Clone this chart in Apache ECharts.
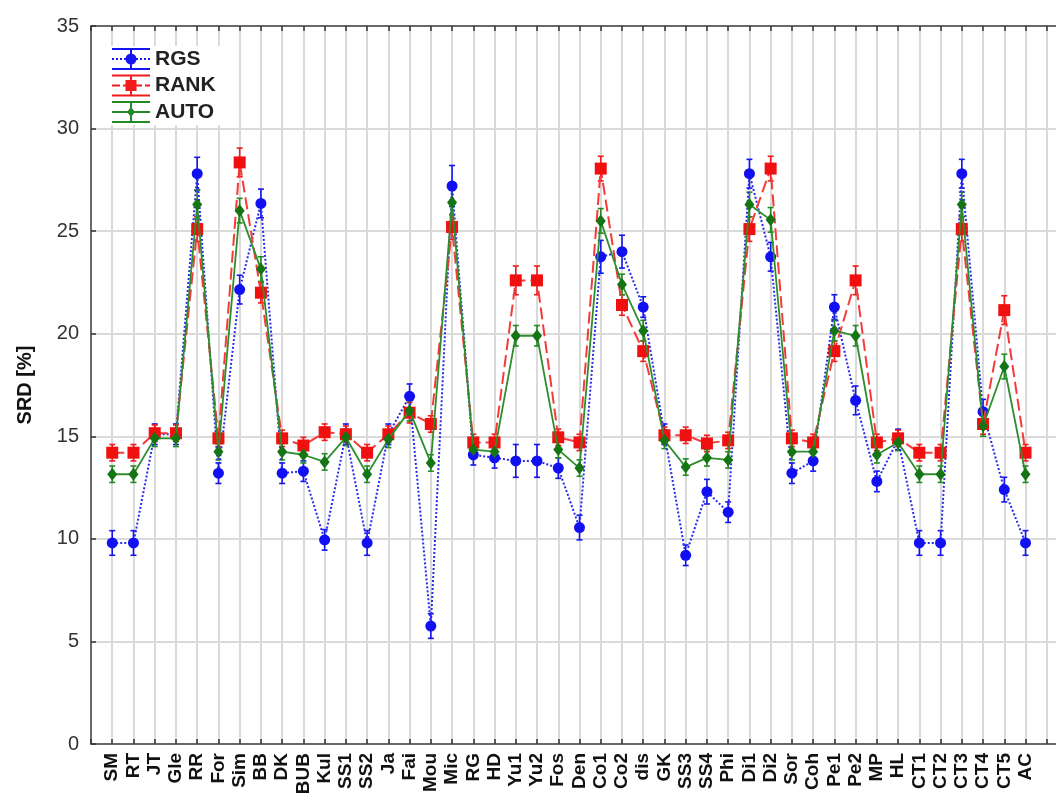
<!DOCTYPE html>
<html>
<head>
<meta charset="utf-8">
<script src="https://cdn.jsdelivr.net/npm/echarts@6/dist/echarts.min.js"></script>
<style>html,body{margin:0;padding:0;background:#fff;overflow:hidden;}#c{width:1068px;height:796px;}</style>
</head>
<body>
<div id="c"></div>
<script>
const categories = ['SM','RT','JT','Gle','RR','For','Sim','BB','DK','BUB','Kul','SS1','SS2','Ja','Fai','Mou','Mic','RG','HD','Yu1','Yu2','Fos','Den','Co1','Co2','dis','GK','SS3','SS4','Phi','Di1','Di2','Sor','Coh','Pe1','Pe2','MP','HL','CT1','CT2','CT3','CT4','CT5','AC'];
const rgs  = [9.8,9.8,15.1,15.1,27.8,13.2,22.15,26.35,13.2,13.3,9.95,15.1,9.8,15.1,16.95,5.75,27.2,14.1,13.95,13.8,13.8,13.45,10.55,23.75,24.0,21.3,15.1,9.2,12.3,11.3,27.8,23.75,13.2,13.8,21.3,16.75,12.8,14.85,9.8,9.8,27.8,16.2,12.4,9.8];
const rank = [14.2,14.2,15.15,15.15,25.1,14.9,28.35,22.0,14.9,14.55,15.2,15.1,14.2,15.1,16.15,15.6,25.2,14.7,14.7,22.6,22.6,14.95,14.7,28.05,21.4,19.15,15.05,15.05,14.65,14.8,25.1,28.05,14.9,14.7,19.15,22.6,14.7,14.9,14.2,14.2,25.1,15.6,21.15,14.2];
const auto = [13.15,13.15,14.9,14.9,26.3,14.25,26.0,23.15,14.25,14.1,13.75,14.95,13.15,14.85,16.25,13.7,26.4,14.35,14.25,19.9,19.9,14.35,13.45,25.5,22.4,20.15,14.8,13.5,13.95,13.85,26.3,25.55,14.25,14.25,20.15,19.9,14.1,14.7,13.15,13.15,26.3,15.5,18.4,13.15];
const rgsErr  = [0.6,0.6,0.5,0.5,0.8,0.5,0.7,0.7,0.5,0.5,0.5,0.5,0.6,0.5,0.6,0.6,1.0,0.5,0.5,0.8,0.8,0.5,0.6,0.8,0.8,0.5,0.5,0.5,0.6,0.5,0.7,0.7,0.5,0.5,0.6,0.7,0.5,0.5,0.6,0.6,0.7,0.6,0.6,0.6];
const rankErr = [0.4,0.4,0.4,0.4,0.6,0.4,0.7,0.5,0.4,0.4,0.4,0.4,0.4,0.4,0.5,0.4,0.6,0.4,0.4,0.7,0.7,0.4,0.4,0.6,0.5,0.5,0.4,0.4,0.4,0.4,0.6,0.6,0.4,0.4,0.5,0.7,0.4,0.4,0.4,0.4,0.6,0.5,0.7,0.4];
const autoErr = [0.4,0.4,0.4,0.4,0.7,0.4,0.6,0.6,0.4,0.4,0.4,0.4,0.4,0.4,0.5,0.4,0.6,0.4,0.4,0.5,0.5,0.4,0.4,0.6,0.5,0.5,0.4,0.4,0.4,0.4,0.6,0.6,0.4,0.4,0.5,0.5,0.4,0.4,0.4,0.4,0.6,0.5,0.6,0.4];
const yTicks = {min: 0, max: 35, interval: 5};

// padded axis: one empty slot before, two after (plot extends past the picture)
const axisData = [''].concat(categories, ['', '']);

function pairs(vals) { return vals.map((v, i) => [i + 1, v]); }
function errData(vals, errs) { return vals.map((v, i) => [i + 1, v - errs[i], v + errs[i]]); }

function errSeries(name, vals, errs, color) {
  return {
    name: name, type: 'custom', silent: true, z: 2,
    data: errData(vals, errs),
    encode: {x: 0, y: [1, 2]},
    renderItem: function (params, api) {
      const x = api.value(0);
      const lo = api.coord([x, api.value(1)]);
      const hi = api.coord([x, api.value(2)]);
      const w = 3;
      const st = {stroke: color, lineWidth: 1.6};
      return {type: 'group', children: [
        {type: 'line', shape: {x1: lo[0], y1: lo[1], x2: hi[0], y2: hi[1]}, style: st},
        {type: 'line', shape: {x1: hi[0] - w, y1: hi[1], x2: hi[0] + w, y2: hi[1]}, style: st},
        {type: 'line', shape: {x1: lo[0] - w, y1: lo[1], x2: lo[0] + w, y2: lo[1]}, style: st}
      ]};
    }
  };
}

function legendIcon(kind) {
  let p = 'M0,0 h38 v2 h-38 Z M0,20 h38 v2 h-38 Z M18,0 h2 v22 h-2 Z ';
  if (kind === 'dot') { for (let x = 0; x < 38; x += 4) p += 'M' + x + ',10 h2 v2 h-2 Z '; }
  else if (kind === 'dash') { for (let x = 0; x < 38; x += 11) p += 'M' + x + ',10 h' + Math.min(8, 38 - x) + ' v2 h-' + Math.min(8, 38 - x) + ' Z '; }
  else { p += 'M0,10 h38 v2 h-38 Z '; }
  if (kind === 'dot') p += 'M13.5,11 A5.5,5.5 0 1 1 24.5,11 A5.5,5.5 0 1 1 13.5,11 Z';
  else if (kind === 'dash') p += 'M13.5,5.5 h11 v11 h-11 Z';
  else p += 'M19,6 L23,11 L19,16 L15,11 Z';
  return 'path://' + p;
}

const chart = echarts.init(document.getElementById('c'), null, {renderer: 'canvas'});
const axisFont = 'Liberation Sans, Arial, sans-serif';
chart.setOption({
  animation: false,
  backgroundColor: '#fff',
  grid: {left: 91, top: 26, right: 0, bottom: 52, containLabel: false, outerBoundsMode: 'none'},
  legend: {
    orient: 'vertical', left: 108, top: 46,
    itemWidth: 38, itemHeight: 22, itemGap: 4.5,
    backgroundColor: '#fff', padding: [2, 6, 2, 4],
    textStyle: {fontFamily: axisFont, fontSize: 21, fontWeight: 'bold', color: '#222', padding: [0, 0, 0, 0]},
    data: [
      {name: 'RGS', icon: legendIcon('dot'), itemStyle: {color: '#1515f0'}},
      {name: 'RANK', icon: legendIcon('dash'), itemStyle: {color: '#f21a1a'}},
      {name: 'AUTO', icon: legendIcon('solid'), itemStyle: {color: '#248a24'}}
    ]
  },
  xAxis: [{
    type: 'category', data: axisData, boundaryGap: false,
    axisLine: {show: true, lineStyle: {color: '#444', width: 1.5}},
    axisTick: {show: true, inside: true, length: 5, interval: 0, lineStyle: {color: '#333', width: 1.5}},
    axisLabel: {interval: 0, rotate: 90, margin: 9, fontFamily: axisFont, fontSize: 19, fontWeight: 'bold', color: '#111'},
    splitLine: {show: true, interval: 0, lineStyle: {color: '#dadada', width: 2}}
  }, {
    type: 'category', data: axisData, boundaryGap: false, position: 'top',
    axisLine: {show: true, lineStyle: {color: '#444', width: 1.5}},
    axisTick: {show: true, inside: true, length: 5, interval: 0, lineStyle: {color: '#333', width: 1.5}},
    axisLabel: {show: false}, splitLine: {show: false}
  }],
  yAxis: {
    type: 'value', min: yTicks.min, max: yTicks.max, interval: yTicks.interval,
    name: 'SRD [%]', nameLocation: 'middle', nameGap: 56,
    nameTextStyle: {fontFamily: axisFont, fontSize: 20, fontWeight: 'bold', color: '#111'},
    axisLine: {show: true, lineStyle: {color: '#444', width: 1.5}},
    axisTick: {show: true, inside: true, length: 5, lineStyle: {color: '#333', width: 1.5}},
    axisLabel: {margin: 12, fontFamily: axisFont, fontSize: 20, color: '#333'},
    splitLine: {show: true, lineStyle: {color: '#dadada', width: 2}}
  },
  series: [
    errSeries('RGS err', rgs, rgsErr, '#1515f0'),
    errSeries('RANK err', rank, rankErr, '#f21a1a'),
    errSeries('AUTO err', auto, autoErr, '#248a24'),
    {name: 'RGS', type: 'line', data: pairs(rgs), z: 3,
     symbol: 'circle', symbolSize: 11, itemStyle: {color: '#1010f0'},
     lineStyle: {color: '#2a2aee', width: 2, type: [2, 2]}},
    {name: 'RANK', type: 'line', data: pairs(rank), z: 4,
     symbol: 'rect', symbolSize: 12, itemStyle: {color: '#f01010'},
     lineStyle: {color: '#f53a3a', width: 2, type: [12, 5]}},
    {name: 'AUTO', type: 'line', data: pairs(auto), z: 5,
     symbol: 'diamond', symbolSize: [10, 13], itemStyle: {color: '#157515'},
     lineStyle: {color: '#2e8e2e', width: 1.8}}
  ]
});
</script>
</body>
</html>
